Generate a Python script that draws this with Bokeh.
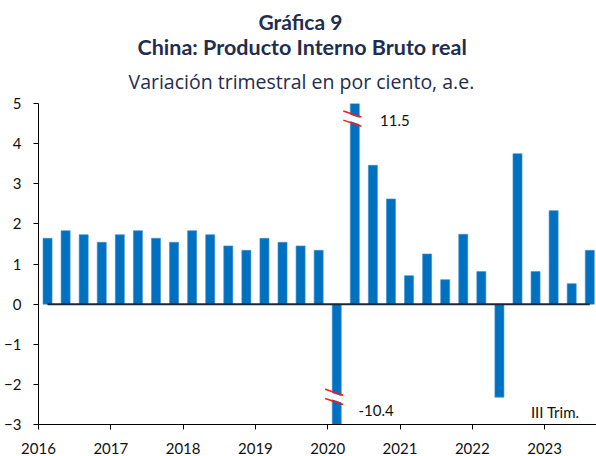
from bokeh.plotting import figure
from bokeh.models import Range1d, Label, FixedTicker, ColumnDataSource, Title
from bokeh.embed import file_html
from bokeh.resources import INLINE

# ---------------- data ----------------
bar_year = [2016, 2016, 2016, 2016,
            2017, 2017, 2017, 2017,
            2018, 2018, 2018, 2018,
            2019, 2019, 2019, 2019,
            2020, 2020, 2020, 2020,
            2021, 2021, 2021, 2021,
            2022, 2022, 2022, 2022,
            2023, 2023, 2023]
bar_quarter = [1, 2, 3, 4,
               1, 2, 3, 4,
               1, 2, 3, 4,
               1, 2, 3, 4,
               1, 2, 3, 4,
               1, 2, 3, 4,
               1, 2, 3, 4,
               1, 2, 3]
gdp_qoq = [1.64, 1.83, 1.73, 1.54,
           1.73, 1.83, 1.64, 1.54,
           1.83, 1.73, 1.45, 1.34,
           1.64, 1.54, 1.45, 1.34,
           -10.4, 11.5, 3.46, 2.62,
           0.71, 1.25, 0.61, 1.74,
           0.81, -2.32, 3.75, 0.81,
           2.33, 0.51, 1.34]
tick_years = [2016, 2017, 2018, 2019, 2020, 2021, 2022, 2023]
y_ticks = [-3, -2, -1, 0, 1, 2, 3, 4, 5]

title_1 = "Gráfica 9"
title_2 = "China: Producto Interno Bruto real"
title_3 = "Variación trimestral en por ciento, a.e."
note_text = "III Trim."

# ---------------- layout / style ----------------
Y_MIN, Y_MAX = -3, 5
X_MIN, X_MAX = 2016, 2016 + 558 / 72.3
FONT = "Lato"
NAVY = "#1F2D4E"
BLUE = "#0070C0"

bar_x = [y + (q - 0.5) / 4 for y, q in zip(bar_year, bar_quarter)]
src = ColumnDataSource(dict(x=bar_x, top=gdp_qoq))

p = figure(width=596, height=462, output_backend="svg", toolbar_location=None,
           x_range=Range1d(X_MIN, X_MAX), y_range=Range1d(Y_MIN, Y_MAX),
           min_border_left=38, min_border_right=0, min_border_top=103,
           min_border_bottom=38)
p.outline_line_color = None
p.grid.visible = False
p.background_fill_color = "white"
p.border_fill_color = "white"

p.vbar(x="x", top="top", bottom=0, width=0.125, source=src,
       fill_color=BLUE, line_color="#3d8ed2", line_width=0.6)

# zero line from first to last bar
p.line(x=[bar_x[0], bar_x[-1]], y=[0, 0], line_color="#1B2838", line_width=2)

# axis breaks & labels for values outside the range
for xv, v in zip(bar_x, gdp_qoq):
    if v > Y_MAX or v < Y_MIN:
        yc = Y_MAX - 0.375 if v > Y_MAX else Y_MIN + 0.69
        x0, x1 = xv - 0.16, xv + 0.09
        p.segment(x0=[x0], y0=[yc + 0.075], x1=[x1], y1=[yc - 0.075],
                  line_color="white", line_width=6)
        for off in (0.115, -0.115):
            p.segment(x0=[x0], y0=[yc + off + 0.075], x1=[x1], y1=[yc + off - 0.075],
                      line_color="#FF1A1A", line_width=1.5)
        if v > Y_MAX:
            lx, ly = xv + 0.35, Y_MAX - 0.42
        else:
            lx, ly = xv + 0.30, Y_MIN + 0.36
        p.add_layout(Label(x=lx, y=ly, text=f"{v}", text_font=FONT,
                           text_font_size="15px", text_color="#111111",
                           text_align="left", text_baseline="middle"))

p.add_layout(Label(x=2016 + (579 - 38) / 72.3, y=-2.70, text=note_text,
                   text_font=FONT, text_font_size="15px", text_color="#111111",
                   text_align="right", text_baseline="middle"))

# titles (added from the one nearest the plot outward)
for txt, fnt, st, sz, so, off in [(title_3, "Open Sans", "normal", "19.5px", 14, 90),
                                  (title_2, FONT, "bold", "21.5px", -2, 99),
                                  (title_1, FONT, "bold", "21px", -2, 220)]:
    p.add_layout(Title(text=txt, align="left", offset=off, vertical_align="top",
                       text_font=fnt, text_font_size=sz,
                       text_font_style=st, text_color=NAVY, standoff=so), "above")

# axes
for ax in (p.xaxis, p.yaxis):
    ax.axis_line_color = "black"
    ax.axis_line_width = 1
    ax.major_tick_line_color = "black"
    ax.major_tick_out = 5
    ax.major_tick_in = 0
    ax.minor_tick_line_color = None
    ax.major_label_text_font = FONT
    ax.major_label_text_font_size = "15px"
    ax.major_label_text_color = "#111111"

p.xaxis.ticker = FixedTicker(ticks=tick_years)
p.xaxis.major_label_overrides = {t: str(t) for t in tick_years}
p.xaxis.major_label_standoff = 13
p.yaxis.ticker = FixedTicker(ticks=y_ticks)
p.yaxis.major_label_standoff = 12

open("out.html", "w").write(file_html(p, INLINE))
